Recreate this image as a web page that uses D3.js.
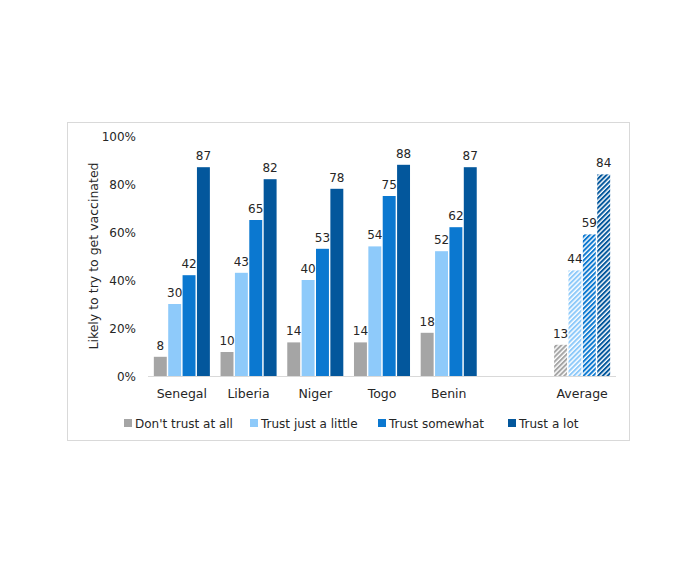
<!DOCTYPE html>
<html lang="en">
<head>
<meta charset="UTF-8">
<title>Trust and vaccination</title>
<script src="https://d3js.org/d3.v7.min.js"></script>
<style>
    body { margin: 0; background: #fff; font-family: "DejaVu Sans", sans-serif; }
    text { fill: #262626; }
</style>
</head>
<body>
<div id="chart"></div>
<script>
// data
const countries = ["Senegal", "Liberia", "Niger", "Togo", "Benin", " ", "Average"];
const series = ["Don't trust at all", "Trust just a little", "Trust somewhat", "Trust a lot"];
const dontTrust = [8, 10, 14, 14, 18, null, 13];
const trustLittle = [30, 43, 40, 54, 52, null, 44];
const trustSomewhat = [42, 65, 53, 75, 62, null, 59];
const trustLot = [87, 82, 78, 88, 87, null, 84];
const yTicks = [0, 20, 40, 60, 80, 100];

const colors = ["#a5a5a5", "#8ecafa", "#0b78d0", "#03579c"];
const values = [dontTrust, trustLittle, trustSomewhat, trustLot];

const W = 696, H = 564;
const svg = d3.select("#chart").append("svg")
    .attr("width", W)
    .attr("height", H);

// hatch patterns for the average group
const defs = svg.append("defs");
colors.forEach((c, i) => {
    const p = defs.append("pattern")
        .attr("id", "hatch" + i)
        .attr("patternUnits", "userSpaceOnUse")
        .attr("width", 3.4)
        .attr("height", 3.4)
        .attr("patternTransform", "rotate(45)");
    p.append("rect").attr("width", 3.4).attr("height", 3.4).attr("fill", "#fff");
    p.append("rect").attr("width", 2).attr("height", 3.4).attr("fill", c);
});

// outer frame
svg.append("rect")
    .attr("x", 67.5).attr("y", 122.5)
    .attr("width", 562).attr("height", 318)
    .attr("fill", "none")
    .attr("stroke", "#d9d9d9");

const x0 = d3.scaleBand()
    .domain(countries)
    .range([148.5, 615.5])
    .paddingInner(0.16)
    .paddingOuter(0.08);

const x1 = d3.scaleBand()
    .domain(d3.range(series.length))
    .range([0, x0.bandwidth()])
    .paddingInner(0.1);

const y = d3.scaleLinear()
    .domain([0, 100])
    .range([376, 136]);

// y tick labels
svg.append("g")
    .selectAll("text")
    .data(yTicks)
    .join("text")
    .attr("x", 136)
    .attr("y", d => y(d) + 4.5)
    .attr("text-anchor", "end")
    .style("font-size", "12px")
    .text(d => d + "%");

svg.append("text")
    .attr("transform", "rotate(-90)")
    .attr("x", -256)
    .attr("y", 98)
    .attr("text-anchor", "middle")
    .style("font-size", "12.5px")
    .text("Likely to try to get vaccinated");

// bars
const groups = svg.append("g")
    .selectAll("g")
    .data(countries)
    .join("g")
    .attr("transform", d => `translate(${x0(d)},0)`);

groups.each(function(c, ci) {
    const g = d3.select(this);
    series.forEach((s, si) => {
        const v = values[si][ci];
        if (v == null) return;
        const fill = c === "Average" ? `url(#hatch${si})` : colors[si];
        g.append("rect")
            .attr("x", x1(si))
            .attr("y", y(v))
            .attr("width", x1.bandwidth())
            .attr("height", y(0) - y(v))
            .attr("fill", fill);
        g.append("text")
            .attr("x", x1(si) + x1.bandwidth() / 2)
            .attr("y", y(v) - 7)
            .attr("text-anchor", "middle")
            .style("font-size", "12px")
            .text(v);
    });
});

// baseline
svg.append("line")
    .attr("x1", 148).attr("x2", 616)
    .attr("y1", y(0) + 0.5).attr("y2", y(0) + 0.5)
    .attr("stroke", "#d9d9d9");

// category labels
svg.append("g")
    .selectAll("text")
    .data(countries)
    .join("text")
    .attr("x", d => x0(d) + x0.bandwidth() / 2)
    .attr("y", 398)
    .attr("text-anchor", "middle")
    .style("font-size", "12.5px")
    .text(d => d);

// legend
const legendX = [124, 250, 378, 508];
const legend = svg.append("g")
    .selectAll("g")
    .data(series)
    .join("g")
    .attr("transform", (d, i) => `translate(${legendX[i]},419)`);

legend.append("rect")
    .attr("width", 8).attr("height", 8)
    .attr("fill", (d, i) => colors[i]);

legend.append("text")
    .attr("x", 11)
    .attr("y", 8.5)
    .style("font-size", "12px")
    .text(d => d);
</script>
</body>
</html>
